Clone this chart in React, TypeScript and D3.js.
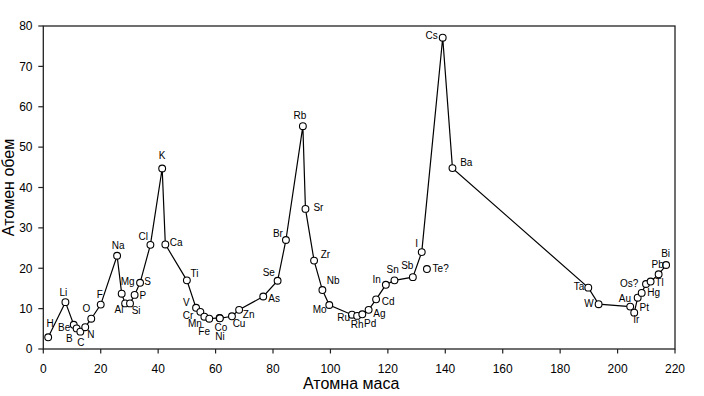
import React from "react";
import * as d3 from "d3";

const elements = ["H","Li","Be","B","C","N","O","F","Na","Mg","Al","Si","P","S","Cl","K","Ca","Ti","V","Cr","Mn","Fe","Co","Ni","Cu","Zn","As","Se","Br","Rb","Sr","Zr","Nb","Mo","Ru","Rh","Pd","Ag","Cd","In","Sn","Sb","I","Cs","Ba","Ta","W","Pt","Ir","Au","Hg","Os?","Tl","Pb","Bi"];
const masses = [1.7,7.7,10.6,11.6,12.9,14.6,16.7,20.0,25.7,27.3,28.5,30.2,31.8,33.7,37.3,41.4,42.5,50.0,53.2,54.7,56.1,57.8,61.4,61.5,65.7,68.2,76.6,81.6,84.5,90.4,91.3,94.3,97.2,99.6,107.5,109.3,111.1,113.3,115.9,119.3,122.3,128.7,131.8,139.1,142.5,189.8,193.4,204.4,205.8,207.0,208.4,209.9,211.5,214.3,216.9];
const volumes = [2.9,11.6,6.0,5.1,4.3,5.4,7.5,11.0,23.1,13.7,11.3,11.3,13.4,16.4,25.8,44.7,25.9,17.0,10.2,9.2,8.0,7.5,7.7,7.6,8.1,9.7,13.0,16.9,27.0,55.2,34.7,21.9,14.6,10.9,8.5,8.2,8.6,9.7,12.3,15.9,17.0,17.8,24.0,77.1,44.8,15.2,11.1,10.5,9.0,12.7,13.9,16.1,16.7,18.5,20.8];

const looseElements = ["Te?"];
const looseMasses = [133.6];
const looseVolumes = [19.8];

const xTicks = [0,20,40,60,80,100,120,140,160,180,200,220];
const yTicks = [0,10,20,30,40,50,60,70,80];
const xTitle = "Атомна маса";
const yTitle = "Атомен обем";

// label placement: [dx, dy, anchor]
const labelPos: Record<string, [number, number, string]> = {
  "H": [2, -10, "middle"], "Li": [-2, -6, "middle"], "Be": [-3.5, 6, "end"], "B": [-4, 13.5, "end"],
  "C": [0.5, 14, "middle"], "N": [2, 11, "start"], "O": [-1, -6.5, "end"], "F": [-1, -7, "middle"],
  "Na": [1, -7, "middle"], "Mg": [-1, -8.5, "start"], "Al": [-1.7, 9.4, "end"], "Si": [1.7, 10.7, "start"],
  "P": [5, 4.3, "start"], "S": [4.3, 2.6, "start"], "Cl": [-2.5, -4.6, "end"], "K": [0, -10, "middle"],
  "Ca": [4.5, 1.5, "start"], "Ti": [3.7, -3, "start"], "V": [-6.5, -1.8, "end"], "Cr": [-7, 6.8, "end"],
  "Mn": [-2.6, 9.8, "end"], "Fe": [0.7, 16, "end"], "Co": [1.3, 12.7, "middle"], "Ni": [0, 22, "middle"],
  "Cu": [0.7, 11, "start"], "Zn": [3.7, 7.7, "start"], "As": [5, 5.3, "start"], "Se": [-2.7, -4.7, "end"],
  "Br": [-3, -3, "end"], "Rb": [-3, -6.7, "middle"], "Sr": [8, 1.7, "start"], "Zr": [6.7, -2.4, "start"],
  "Nb": [4.4, -5.7, "start"], "Mo": [-2.6, 7.7, "end"], "Ru": [-2, 6, "end"], "Rh": [0, 12.6, "middle"],
  "Pd": [1.7, 12.4, "start"], "Ag": [4.6, 6.7, "start"], "Cd": [5.7, 5.7, "start"], "In": [-5, -1.4, "end"],
  "Sn": [-1.8, -7, "middle"], "Sb": [0.6, -7.7, "end"], "I": [-3.7, -5.6, "end"], "Cs": [-5, 1, "end"],
  "Ba": [7.7, -2, "start"], "Ta": [-4, 2.3, "end"], "W": [-5, 2.4, "end"], "Pt": [9.3, 4, "start"],
  "Ir": [2, 10.6, "middle"], "Au": [-6.7, 4, "end"], "Hg": [5.6, 3.5, "start"], "Os?": [-7.7, 2.7, "end"],
  "Tl": [4.7, 4.2, "start"], "Pb": [-1, -6, "middle"], "Bi": [-0.5, -7.7, "middle"], "Te?": [5.7, 2.7, "start"],
};

const W = 704, H = 396;
const margin = { left: 43.3, right: 675, top: 26, bottom: 349 };
const font = "'Liberation Sans', Arial, sans-serif";

export default function App() {
  React.useEffect(() => { document.body.style.margin = "0"; }, []);
  const x = d3.scaleLinear().domain([0, 220]).range([margin.left, margin.right]);
  const y = d3.scaleLinear().domain([0, 80]).range([margin.bottom, margin.top]);
  const pts = elements.map((e, i) => ({ e, m: masses[i], v: volumes[i] }));
  const loose = looseElements.map((e, i) => ({ e, m: looseMasses[i], v: looseVolumes[i] }));
  const line = d3.line<{ m: number; v: number }>().x(d => x(d.m)).y(d => y(d.v));
  const all = [...pts, ...loose];
  return (
    <svg width={W} height={H} style={{ display: "block", background: "#fff" }} fontFamily={font}>
      <rect x={margin.left} y={margin.top} width={margin.right - margin.left} height={margin.bottom - margin.top}
        fill="none" stroke="#222" strokeWidth={1.3} />
      {yTicks.map(t => (
        <g key={"y" + t}>
          <line x1={margin.left - 5} x2={margin.left} y1={y(t)} y2={y(t)} stroke="#222" strokeWidth={1.2} />
          <text x={32.5} y={y(t) + 4.3} textAnchor="end" fontSize={12}>{t}</text>
        </g>
      ))}
      {xTicks.map(t => (
        <g key={"x" + t}>
          <line x1={x(t)} x2={x(t)} y1={margin.bottom} y2={margin.bottom + 4.5} stroke="#222" strokeWidth={1.2} />
          <text x={x(t)} y={372.5} textAnchor="middle" fontSize={12}>{t}</text>
        </g>
      ))}
      <text x={(margin.left + margin.right) / 2 - 8} y={389} textAnchor="middle" fontSize={16}>{xTitle}</text>
      <text transform={`translate(14,${(margin.top + margin.bottom) / 2}) rotate(-90)`} textAnchor="middle" fontSize={16}>{yTitle}</text>
      <path d={line(pts) || ""} fill="none" stroke="#000" strokeWidth={1.2} />
      {all.map(p => (
        <circle key={"c" + p.e} cx={x(p.m)} cy={y(p.v)} r={3.4} fill="#fff" stroke="#000" strokeWidth={1.1} />
      ))}
      {all.map(p => {
        const lp = labelPos[p.e] || [4, 0, "start"];
        return (
          <text key={"t" + p.e} x={x(p.m) + lp[0]} y={y(p.v) + lp[1]} textAnchor={lp[2] as any} fontSize={10}>{p.e}</text>
        );
      })}
    </svg>
  );
}
